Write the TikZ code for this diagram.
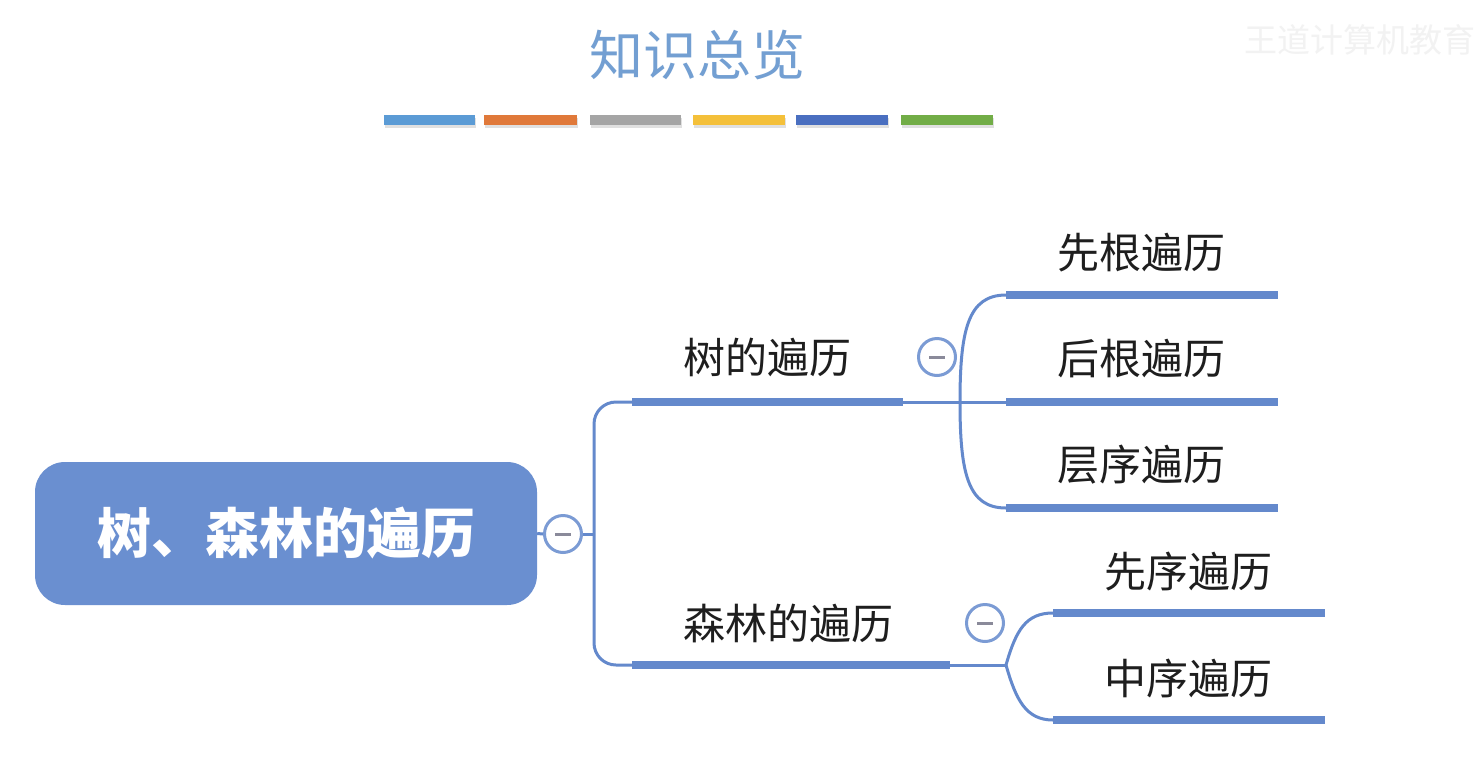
\documentclass[tikz,border=0pt]{standalone}
\usepackage{fontspec}
\newfontfamily\cjk{Noto Sans CJK SC}
\definecolor{mapblue}{HTML}{6489CC}
\definecolor{rootblue}{HTML}{6A8FD0}
\definecolor{titleblue}{HTML}{739FD2}
\definecolor{txt}{HTML}{1E1E1E}
\definecolor{minusgray}{HTML}{8A8A9A}
\definecolor{cA}{HTML}{5B9BD5}
\definecolor{cB}{HTML}{E0793A}
\definecolor{cC}{HTML}{A5A5A5}
\definecolor{cD}{HTML}{F4C03A}
\definecolor{cE}{HTML}{4A6FC0}
\definecolor{cF}{HTML}{72AD47}
\begin{document}
\begin{tikzpicture}[x=1pt,y=-1pt,
  lbl/.style={font=\cjk\fontsize{42}{48}\selectfont, text=txt, inner sep=0pt, anchor=center},
  bar/.style={draw=mapblue, line width=8pt},
  thin/.style={draw=mapblue, line width=3pt},
  collapse/.style={circle, draw=mapblue!85, line width=3pt, fill=white, minimum size=37pt, inner sep=0pt},
  cbar/.style={line width=10pt}
]
\useasboundingbox (0,0) rectangle (1484,764);
\fill[white] (0,0) rectangle (1484,764);

% title
\node[font=\cjk\fontsize{54}{60}\selectfont, text=titleblue, inner sep=0pt] (title) at (697,55) {知识总览};
% watermark
\node[font=\cjk\fontsize{33}{40}\selectfont, text=black!5, inner sep=0pt] (wm) at (1360,40) {王道计算机教育};

% colour bars
\foreach \a/\b/\c [count=\i] in {384/475/cA,484/577/cB,590/681/cC,693/785/cD,796/888/cE,901/993/cF}{
  \draw[cbar, black!12] (\a+1,123) -- (\b+1,123);
  \draw[cbar, \c] (\a,120) -- (\b,120);
}

% root
\node[fill=rootblue, rounded corners=30pt, minimum width=502pt, minimum height=143pt, inner sep=0pt,
      font=\cjk\bfseries\fontsize{54}{60}\selectfont, text=white] (root) at (286,533.5) {树、森林的遍历};
\node[collapse] (c0) at (563,534) {};
\draw[minusgray, line width=3pt] (555,534) -- (571,534);
\coordinate (trunk) at (594,534);
\draw[thin] (root.east) -- (c0.west);
\draw[thin] (c0.east) -- (trunk);

% level 1
\coordinate (t1s) at (632,402); \coordinate (t1e) at (903,402);
\coordinate (f1s) at (632,665); \coordinate (f1e) at (950,665);
\draw[thin, rounded corners=22pt] (t1s) -- (594,402) -- (594,665) -- (f1s);
\draw[bar] (t1s) -- (t1e);
\draw[bar] (f1s) -- (f1e);
\node[lbl] (tree) at (767,357) {树的遍历};
\node[lbl] (forest) at (788,623) {森林的遍历};
\node[collapse] (c1) at (937,357) {};
\draw[minusgray, line width=3pt] (929,357) -- (945,357);
\node[collapse] (c2) at (985,623) {};
\draw[minusgray, line width=3pt] (977,623) -- (993,623);

% tree children
\coordinate (ts) at (960,402);
\coordinate (a1) at (1006,295); \coordinate (a2) at (1278,295);
\coordinate (b1) at (1006,402); \coordinate (b2) at (1278,402);
\coordinate (d1) at (1006,508); \coordinate (d2) at (1278,508);
\draw[thin] (t1e) -- (ts) -- (b1);
\draw[thin] (ts) .. controls (960,330) and (968,295) .. (a1);
\draw[thin] (ts) .. controls (960,474) and (968,508) .. (d1);
\draw[bar] (a1) -- (a2);
\draw[bar] (b1) -- (b2);
\draw[bar] (d1) -- (d2);
\node[lbl] (pre) at (1141,253) {先根遍历};
\node[lbl] (post) at (1141,359) {后根遍历};
\node[lbl] (lev) at (1141,465) {层序遍历};

% forest children
\coordinate (fs) at (1006,665);
\coordinate (e1) at (1053,613); \coordinate (e2) at (1325,613);
\coordinate (g1) at (1053,720); \coordinate (g2) at (1325,720);
\draw[thin] (f1e) -- (fs);
\draw[thin] (fs) .. controls (1016,630) and (1026,613) .. (e1);
\draw[thin] (fs) .. controls (1016,700) and (1026,720) .. (g1);
\draw[bar] (e1) -- (e2);
\draw[bar] (g1) -- (g2);
\node[lbl] (fpre) at (1188,572) {先序遍历};
\node[lbl] (fin) at (1188,678) {中序遍历};
\end{tikzpicture}
\end{document}
